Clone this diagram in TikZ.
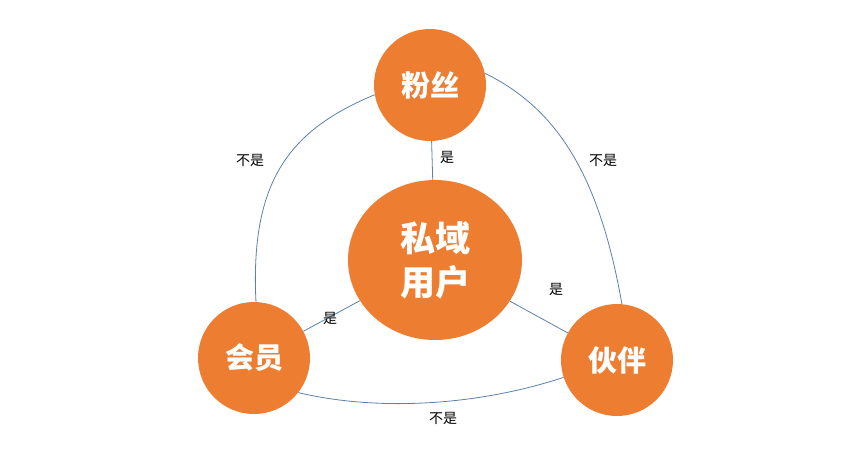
\documentclass[tikz,border=0pt]{standalone}
\usepackage{fontspec}
\newfontfamily\cjk{Noto Sans CJK SC}
\usetikzlibrary{shapes.geometric}
\definecolor{org}{HTML}{ED7D31}
\definecolor{ln}{HTML}{5B80AC}
\tikzset{
 circ/.style={circle,fill=org,minimum size=112pt,inner sep=0pt,text=white,font=\cjk\bfseries\fontsize{29}{32}\selectfont},
 conn/.style={ln,line width=0.8pt},
 lab/.style={font=\cjk\fontsize{14}{16}\selectfont,inner sep=1pt}
}
\begin{document}
\begin{tikzpicture}[x=1pt,y=-1pt]
\useasboundingbox (0,0) rectangle (859,464);
\node[circ] (fen) at (430,85) {粉丝};
\node[ellipse,fill=org,minimum width=174pt,minimum height=160pt,inner sep=0pt,text=white,align=center,font=\cjk\bfseries\fontsize{35}{44}\selectfont] (si) at (435,260) {私域\\用户};
\node[circ] (hui) at (254,358) {会员};
\node[circ] (huo) at (617,360) {伙伴};
\draw[conn] (fen) -- (si);
\draw[conn] (si) -- (hui);
\draw[conn] (si) -- (huo);
\draw[conn] (fen.190) .. controls (290,130) and (250,180) .. (hui.88);
\draw[conn] (fen.12) .. controls (560,110) and (600,180) .. (huo.85);
\draw[conn] (hui.-38) .. controls (380,412) and (480,405) .. (huo.198);
\node[lab] (l1) at (447,157) {是};
\node[lab] (l2) at (330,318) {是};
\node[lab] (l3) at (556,289) {是};
\node[lab] (l4) at (250,160) {不是};
\node[lab] (l5) at (603,160) {不是};
\node[lab] (l6) at (443,418) {不是};
\end{tikzpicture}
\end{document}
